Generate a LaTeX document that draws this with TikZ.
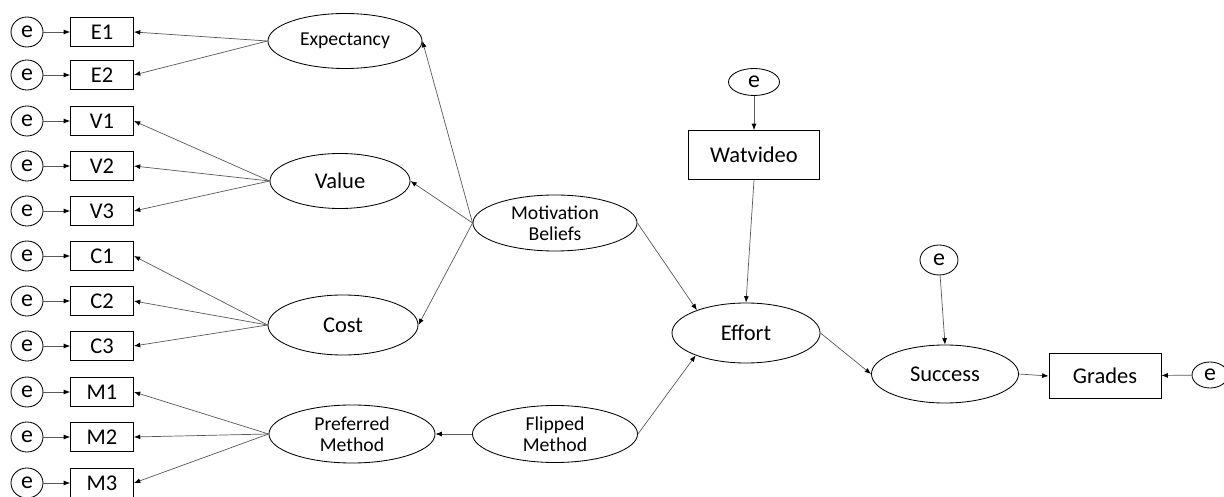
\documentclass[tikz,border=0pt]{standalone}
\usepackage{fontspec}
\setmainfont{Carlito}
\usetikzlibrary{shapes.geometric,arrows.meta}

\begin{document}
\begin{tikzpicture}[x=0.025cm,y=-0.025cm,
  err/.style={draw,ellipse,line width=0.6pt,inner sep=0pt,minimum width=0.8cm,minimum height=0.75cm,font=\fontsize{17}{18}\selectfont},
  obs/.style={draw,rectangle,line width=0.6pt,inner sep=0pt,minimum width=1.575cm,minimum height=0.725cm,font=\fontsize{16}{17}\selectfont},
  lat/.style={draw,ellipse,line width=0.6pt,inner xsep=0pt,inner ysep=-6pt,align=center,font=\fontsize{16}{17}\selectfont},
  latsmall/.style={lat,font=\fontsize{14}{15}\selectfont},
  link/.style={draw=black!65,line width=0.5pt,-{Latex[length=4.5pt,width=3.5pt,color=black]}}]
\useasboundingbox (0,0) rectangle (1224,497);
\foreach \n/\t/\y in {e1/E1/32,e2/E2/75,v1/V1/121,v2/V2/166,v3/V3/211,c1/C1/256,c2/C2/301,c3/C3/346,m1/M1/392,m2/M2/437,m3/M3/483} {
  \node[obs] (\n) at (102,\y) {\t};
  \node[err] (u\n) at (27,\y) {e};
  \draw[link] (u\n) -- (\n);
}
\node[latsmall,minimum width=3.85cm,minimum height=1.375cm] (expect) at (345,41) {Expectancy};
\node[lat,minimum width=3.5cm,minimum height=1.375cm] (value) at (340,181) {Value};
\node[lat,minimum width=3.75cm,minimum height=1.5cm] (cost) at (343,325) {Cost};
\node[latsmall,minimum width=4.15cm,minimum height=1.45cm] (prefer) at (352,434) {Preferred\\Method};
\node[latsmall,minimum width=4.1cm,minimum height=1.4cm] (motiv) at (555,223) {Motivation\\Beliefs};
\node[latsmall,minimum width=4.125cm,minimum height=1.425cm] (flip) at (555,434) {Flipped\\Method};
\node[lat,minimum width=3.7cm,minimum height=1.5cm] (effort) at (746,333) {Effort};
\node[lat,minimum width=3.675cm,minimum height=1.45cm] (success) at (945,374) {Success};
\node[obs,minimum width=3.275cm,minimum height=1.225cm] (watvideo) at (754,155) {Watvideo};
\node[obs,minimum width=2.8cm,minimum height=1.125cm] (grades) at (1105,376) {Grades};
\node[err,minimum width=1.275cm,minimum height=0.675cm] (ewat) at (754,82) {e};
\node[err,minimum width=0.95cm] (esucc) at (939,260) {e};
\node[err,minimum width=0.9cm,minimum height=0.65cm] (egrad) at (1210,375) {e};
\foreach \i in {e1,e2} \draw[link] (expect.west) -- (\i.east);
\foreach \i in {v1,v2,v3} \draw[link] (value.west) -- (\i.east);
\foreach \i in {c1,c2,c3} \draw[link] (cost.west) -- (\i.east);
\foreach \i in {m1,m2,m3} \draw[link] (prefer.west) -- (\i.east);
\foreach \i in {expect,value,cost} \draw[link] (motiv.west) -- (\i.east);
\draw[link] (motiv.east) -- (effort.155);
\draw[link] (flip.east) -- (effort.204);
\draw[link] (flip.west) -- (prefer.east);
\draw[link] (ewat) -- (watvideo);
\draw[link] (watvideo.south) -- (effort.north);
\draw[link] (effort.east) -- (success.west);
\draw[link] (esucc) -- (success.north);
\draw[link] (success.east) -- (grades.west);
\draw[link] (egrad) -- (grades);
\end{tikzpicture}
\end{document}
